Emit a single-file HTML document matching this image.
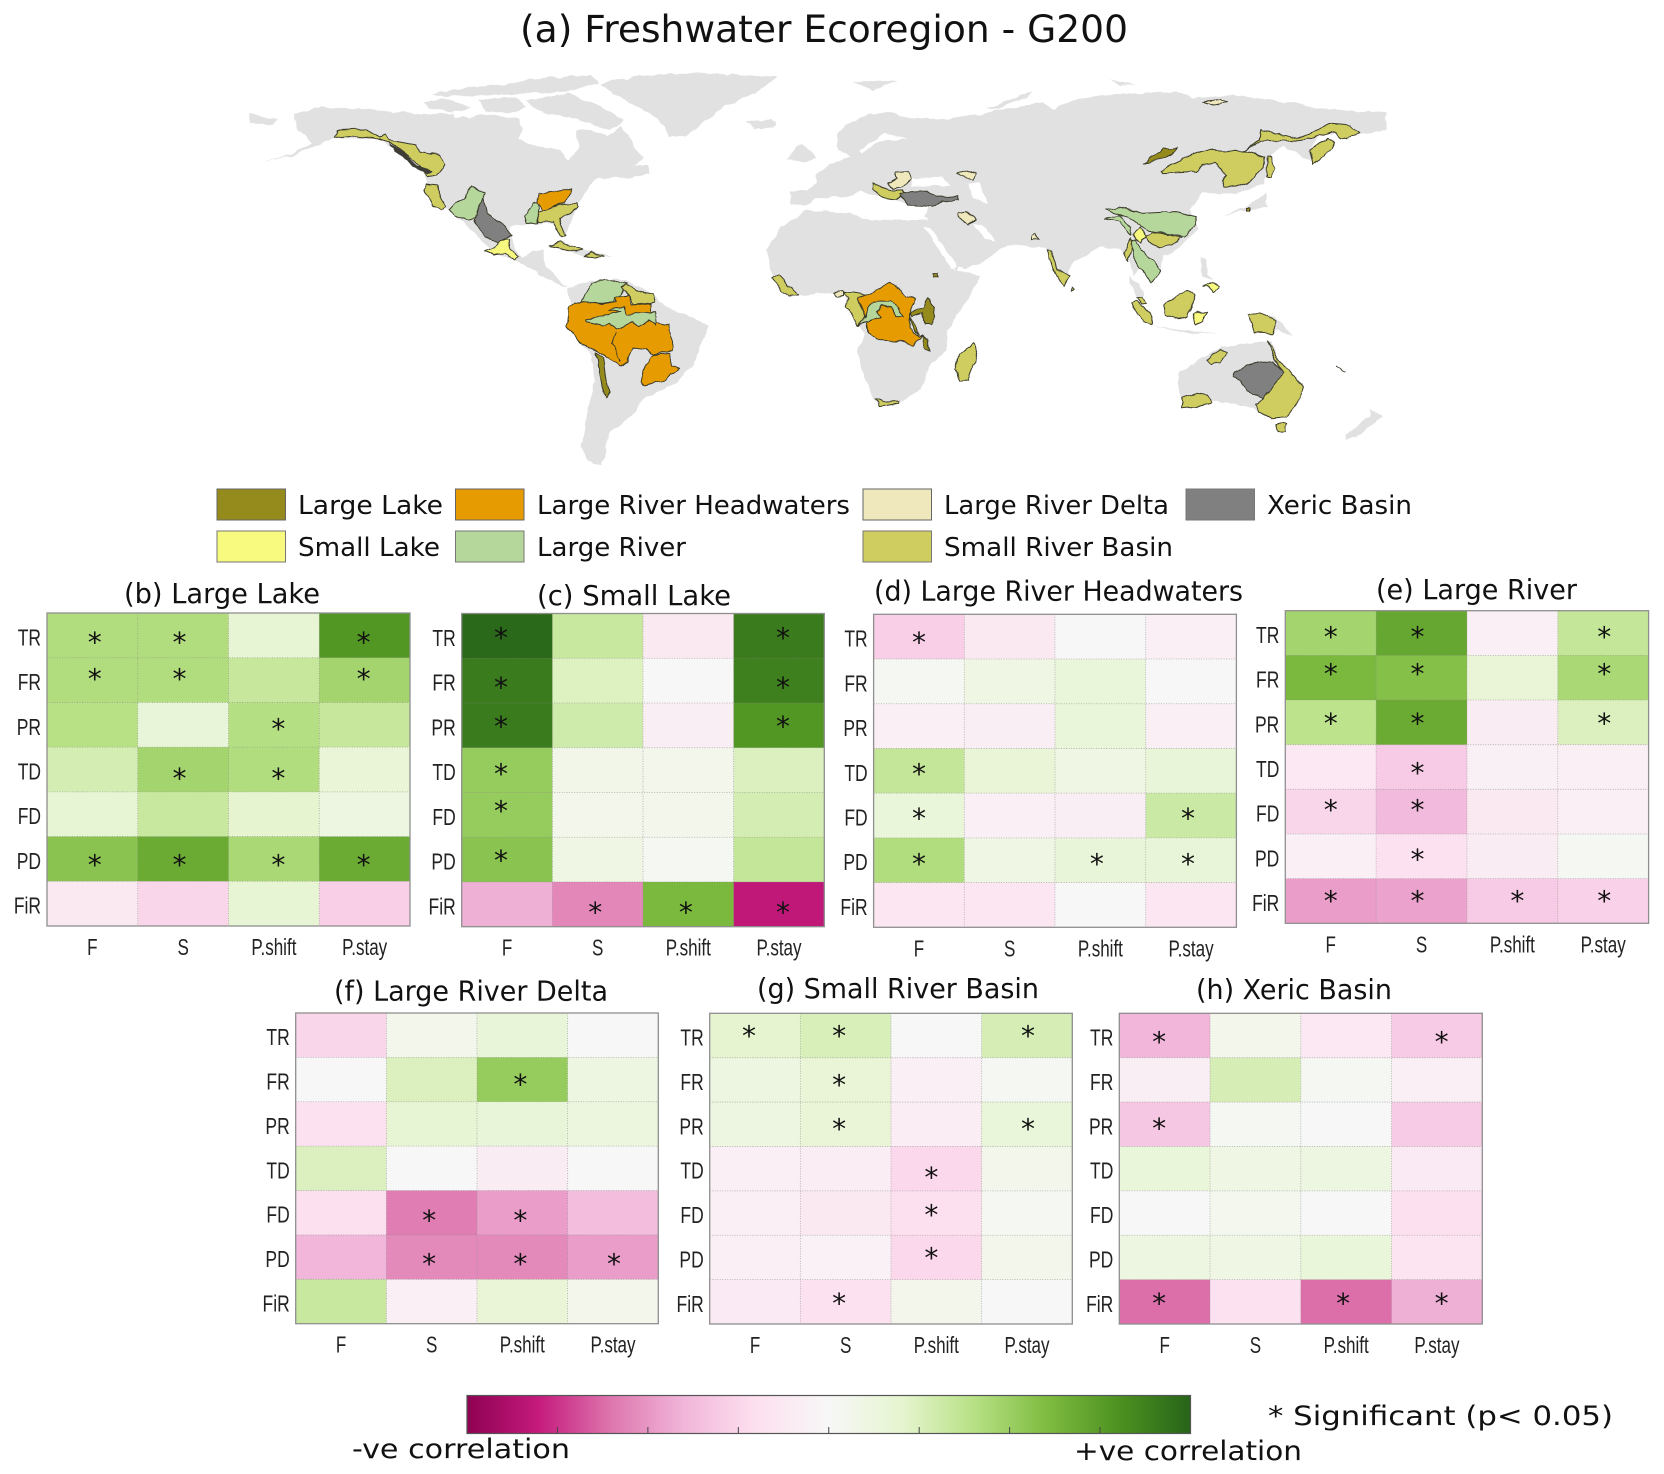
<!DOCTYPE html>
<html lang="en">
<head>
<meta charset="utf-8">
<title>Freshwater Ecoregion - G200</title>
<style>
html,body{margin:0;padding:0;background:#fff;}
svg{display:block;}
.dj{font-family:"DejaVu Sans","Liberation Sans",sans-serif;fill:#111;}
.eco{stroke:#3a3a2a;stroke-width:1;vector-effect:non-scaling-stroke;stroke-linejoin:round;}
.ll{fill:#958a1c;}.lrh{fill:#e69b00;}.lrd{fill:#efe8bd;}.xb{fill:#808080;}
.sl{fill:#f8f97f;}.lr{fill:#b5d79c;}.srb{fill:#cfcd60;}
</style>
</head>
<body>
<svg id="figure" xmlns="http://www.w3.org/2000/svg" width="1664" height="1474" viewBox="0 0 1664 1474">
<defs>
<filter id="rough" filterUnits="userSpaceOnUse" x="200" y="50" width="1250" height="430" color-interpolation-filters="sRGB">
<feTurbulence type="fractalNoise" baseFrequency="0.09" numOctaves="2" seed="4" result="n"/>
<feDisplacementMap in="SourceGraphic" in2="n" scale="5" xChannelSelector="R" yChannelSelector="G"/>
</filter>
<linearGradient id="piyg" x1="0" x2="1" y1="0" y2="0">
<stop offset="0" stop-color="#8e0152"/><stop offset=".1" stop-color="#c51b7d"/><stop offset=".2" stop-color="#de77ae"/><stop offset=".3" stop-color="#f1b6da"/><stop offset=".4" stop-color="#fde0ef"/><stop offset=".5" stop-color="#f7f7f7"/><stop offset=".6" stop-color="#e6f5d0"/><stop offset=".7" stop-color="#b8e186"/><stop offset=".8" stop-color="#7fbc41"/><stop offset=".9" stop-color="#4d9221"/><stop offset="1" stop-color="#276419"/>
</linearGradient>
</defs>
<rect width="1664" height="1474" fill="#fff"/>
<text class="dj" x="520" y="42" font-size="37" textLength="608" lengthAdjust="spacingAndGlyphs">(a) Freshwater Ecoregion - G200</text>

<g filter="url(#rough)">
<!-- Americas land -->
<g transform="translate(200 50) scale(0.4082 0.3333)" fill="#e1e1e2">
<path d="M230,190L300,172L420,180L520,190L590,190L640,190L700,195L780,205L790,240L780,265L810,285L880,300L900,335L930,295L920,245L960,240L1000,260L1030,225L1060,280L1085,320L1060,350L1105,370L1060,382L975,385L940,430L925,470L895,555L875,520L830,520L790,525L760,530L760,560L775,600L790,625L815,600L840,595L845,640L880,690L900,712L860,695L790,640L720,610L690,570L640,510L600,470L560,410L550,370L520,330L470,290L430,265L330,265L290,285L220,320L150,335L210,318L275,280L240,240Z"/>
<path d="M570,130L640,115L760,100L820,85L960,75L975,100L900,125L800,130L700,135L600,140Z"/>
<path d="M545,160L600,145L660,170L640,188L560,175Z"/>
<path d="M680,150L770,140L800,170L760,190L700,185Z"/>
<path d="M800,150L900,130L1000,180L1040,212L1000,240L920,205L830,185Z"/>
<path d="M980,100L1060,80L1200,68L1415,80L1360,130L1280,170L1190,260L1150,260L1130,220L1100,190L1040,150Z"/>
<path d="M1340,215L1400,210L1410,225L1360,235Z"/>
<path d="M122,190L190,210L180,225L122,220Z"/>
<path d="M1060,345L1100,345L1105,375L1070,370Z"/>
<path d="M900,715L960,690L1040,690L1110,730L1140,770L1245,825L1210,940L1170,1000L1090,1040L1060,1100L1000,1150L985,1245L950,1232L935,1190L950,1080L965,1000L960,920L900,830L910,770Z"/>
<path d="M860,585L940,600L1010,620L950,622L900,605Z"/>
<path fill="#fff" d="M790,205L850,212L870,238L800,236Z"/>
<path fill="#fff" d="M620,182L680,186L660,205L625,200Z"/>
</g>
<!-- Old world land -->
<g transform="translate(760 50) scale(0.4336 0.3333)">
<g fill="#e1e1e2">
<path d="M15,600L50,530L110,480L200,490L260,510L385,510L420,600L450,660L510,675L480,750L430,840L430,900L390,950L370,1020L320,1060L270,1062L240,980L225,900L240,850L190,725L90,735L30,680Z"/>
<path d="M70,460L70,425L110,420L130,400L125,375L160,345L210,320L180,300L175,255L200,225L250,195L300,185L345,205L400,205L430,210L470,195L510,195L540,180L600,170L650,160L680,180L720,150L790,135L870,130L960,125L1000,145L1090,135L1180,150L1300,175L1380,185L1445,185L1445,240L1385,255L1290,250L1270,300L1280,340L1210,290L1180,310L1170,330L1165,400L1100,430L1020,430L990,480L1010,540L960,600L930,620L925,670L880,640L860,680L850,620L830,600L790,590L720,640L700,700L660,590L570,585L510,640L455,665L390,530L385,505L260,470L200,440L100,470Z"/>
<path d="M60,330L95,280L130,320L100,340Z"/>
<path d="M0,220L35,215L30,232L0,235Z"/>
<path d="M215,95L320,95L260,120Z"/>
<path d="M520,175L630,125L610,145L545,175Z"/>
<path d="M805,90L870,105L830,108Z"/>
<path d="M850,680L875,700L885,740L870,745Z"/>
<path d="M900,825L1000,845L1060,850L990,850Z"/>
<path d="M1015,620L1030,625L1030,670L1045,690L1020,680Z"/>
<path d="M1070,495L1120,470L1165,430L1170,470L1130,480Z"/>
<path d="M1130,790L1190,800L1230,860L1190,840L1140,850Z"/>
<path d="M965,970L1020,925L1060,890L1130,880L1180,870L1195,935L1230,975L1252,1015L1240,1060L1215,1100L1150,1085L1140,1075L1040,1050L975,1055L965,1010Z"/>
<path d="M1350,1172L1375,1165L1400,1135L1435,1100L1405,1075L1408,1100L1380,1125L1350,1155Z"/>
</g>
<g fill="#fff">
<path d="M95,475L210,462L275,512L380,505L392,470L330,460L290,440L230,425L200,440L130,445Z"/>
<path d="M350,385L420,380L440,410L395,405L350,410Z"/>
<path d="M480,400L505,395L525,460L495,445Z"/>
<path d="M380,530L395,535L455,650L440,655Z"/>
<path d="M490,520L510,525L545,570L520,565Z"/>
<path d="M225,300L290,250L340,265L270,275L235,310Z"/>
<path d="M455,660L510,678L505,670L460,650Z"/>
</g>
</g>

<!-- Ecoregions: Americas -->
<g transform="translate(200 50) scale(0.4082 0.3333)">
<path class="eco srb" d="M328,265L335,242L405,238L440,262L455,255L462,270L530,285L540,305L585,315L600,345L580,375L560,380L540,350L500,310L470,280L420,262L370,258L340,262Z"/>
<path fill="#3d3d35" d="M460,275L500,310L530,345L570,362L560,372L520,348L480,305Z"/>
<path class="eco srb" d="M553,400L580,405L590,445L603,465L590,478L570,465L550,420Z"/>
<path class="eco lr" d="M610,480L625,460L650,445L662,405L695,430L685,470L672,505L660,510L625,495Z"/>
<path class="eco xb" d="M690,445L705,490L740,520L762,555L730,580L700,560L672,510Z"/>
<path class="eco sl" d="M735,572L755,568L760,595L782,620L770,630L745,610L720,615L700,605L720,595Z"/>
<path class="eco lr" d="M818,460L830,460L828,520L800,520L795,495Z"/>
<path class="eco lrh" d="M830,430L870,425L912,415L895,455L840,485L828,460Z"/>
<path class="eco srb" d="M830,488L895,460L925,460L925,475L880,510L895,555L885,560L865,515L830,515Z"/>
<path class="eco srb" d="M858,588L880,577L940,600L920,605Z"/>
<path class="eco srb" d="M940,620L960,608L985,618L990,622Z"/>
<path class="eco lr" d="M935,755L960,700L990,688L1030,700L1045,700L1030,735L1015,745L1015,755L985,760L945,758Z"/>
<path class="eco srb" d="M1032,712L1045,703L1080,725L1110,730L1115,755L1090,760L1060,765L1050,735Z"/>
<path class="eco lrh" d="M905,770L940,755L985,762L1020,755L1015,740L1050,735L1055,765L1105,760L1105,795L1115,815L1150,825L1158,900L1110,915L1090,900L1060,895L1045,935L1030,950L1015,935L975,905L930,880L900,830Z"/>
<path class="eco" fill="none" d="M1020,850L1008,880L1030,935"/>
<path class="eco lrh" d="M1105,918L1150,910L1155,945L1175,955L1140,990L1085,1005L1080,990L1090,950Z"/>
<path class="eco lr" d="M945,810L985,800L1030,785L1000,780L1040,770L1045,795L1075,790L1115,785L1118,825L1100,810L1075,830L1060,815L1040,830L1020,840L1005,820L985,825L945,815Z"/>
<path class="eco ll" d="M968,908L990,925L998,1000L1003,1025L993,1045L985,1010L975,940Z"/>
</g>

<!-- Ecoregions: Old world -->
<g transform="translate(760 50) scale(0.4336 0.3333)">
<path class="eco srb" d="M27,685L45,672L65,710L88,735L65,738L45,715Z"/>
<path class="eco lrd" d="M170,725L190,722L192,738L178,740Z"/>
<path class="eco srb" d="M190,725L210,728L240,735L245,790L240,815L225,825L200,770L205,745Z"/>
<path class="eco lrh" d="M225,745L260,725L300,700L325,720L335,740L360,745L345,790L345,830L365,860L375,855L350,890L335,875L270,870L250,850L245,800Z"/>
<path class="eco lr" d="M228,825L245,800L250,775L262,755L300,755L320,780L330,800L315,800L300,775L280,765L270,785L278,800L255,810Z"/>
<path class="eco ll" d="M385,742L402,770L398,825L380,825L375,790L350,800L345,790L375,770Z"/>
<path class="eco ll" d="M345,800L360,830L365,855L352,830Z"/>
<path class="eco ll" d="M375,855L388,870L392,905L378,890Z"/>
<path class="eco ll" d="M400,668L410,668L410,682L400,682Z"/>
<path class="eco srb" d="M492,878L502,905L480,990L460,992L448,960L458,915Z"/>
<path class="eco srb" d="M268,1045L285,1055L320,1053L320,1060L275,1070Z"/>
<path class="eco srb" d="M260,400L295,420L330,420L335,430L315,450L285,445L260,415Z"/>
<path class="eco lrd" d="M295,400L315,385L312,365L340,362L350,385L330,410L305,415Z"/>
<path class="eco xb" d="M325,430L385,425L405,440L430,440L455,437L455,450L420,455L400,470L340,465L328,445Z"/>
<path class="eco lrd" d="M455,370L480,362L497,370L490,388L465,380Z"/>
<path class="eco lrd" d="M458,490L475,485L498,510L480,525L460,505Z"/>
<path class="eco lrd" d="M625,562L635,550L642,570L625,572Z"/>
<path class="eco lrd" d="M1020,155L1060,148L1078,158L1045,165Z"/>
<path class="eco ll" d="M885,340L930,295L965,293L935,325Z"/>
<path class="eco srb" d="M925,365L945,345L985,320L1040,298L1120,305L1165,320L1160,355L1130,395L1095,410L1070,410L1065,395L1075,375L1050,340L1020,345L1005,365L930,368Z"/>
<path class="eco srb" d="M1115,305L1150,270L1155,240L1240,265L1290,240L1320,220L1360,225L1385,250L1340,265L1320,245L1270,265L1235,272L1155,272Z"/>
<path class="eco srb" d="M1268,300L1310,262L1325,280L1300,320L1275,342Z"/>
<path class="eco srb" d="M1170,320L1178,320L1186,355L1178,382L1168,380Z"/>
<path class="eco ll" d="M1122,472L1130,472L1130,482L1122,482Z"/>
<path class="eco lr" d="M795,480L825,472L880,490L960,485L1005,500L1000,530L980,560L905,545L880,530L850,500Z"/>
<path class="eco lr" d="M795,505L830,495L855,530L855,555L830,515Z"/>
<path class="eco srb" d="M890,560L905,548L975,562L950,585L920,592L895,575Z"/>
<path class="eco sl" d="M860,555L878,533L892,560L880,578L868,570Z"/>
<path class="eco lr" d="M855,575L865,570L880,600L905,630L925,660L905,700L895,680L875,650L860,610Z"/>
<path class="eco srb" d="M855,565L858,590L848,635L840,610Z"/>
<path class="eco srb" d="M665,598L672,600L685,660L715,680L700,708L685,680L668,630Z"/>
<path class="eco srb" d="M720,710L725,720L718,725Z"/>
<path class="eco srb" d="M855,760L870,755L905,800L905,822L885,815Z"/>
<path class="eco srb" d="M870,745L880,742L893,760L880,762Z"/>
<path class="eco srb" d="M930,765L985,720L1002,735L985,800L965,808L935,795Z"/>
<path class="eco sl" d="M1000,790L1010,785L1030,785L1020,815L1005,825Z"/>
<path class="eco sl" d="M1023,710L1045,695L1058,710L1045,725L1035,710Z"/>
<path class="eco srb" d="M1128,795L1150,790L1190,810L1180,850L1140,848Z"/>
<path class="eco srb" d="M1030,930L1060,895L1080,910L1060,940L1040,942Z"/>
<path class="eco srb" d="M1170,870L1180,890L1195,935L1230,975L1252,1015L1240,1060L1215,1100L1180,1105L1150,1085L1143,1060L1160,1045L1205,970L1188,930Z"/>
<path class="eco xb" d="M1095,970L1125,945L1165,933L1185,938L1207,970L1160,1045L1125,1025L1110,990L1092,980Z"/>
<path class="eco srb" d="M975,1045L1005,1030L1030,1035L1043,1055L1005,1070L972,1075Z"/>
<path class="eco srb" d="M1190,1122L1215,1122L1210,1145L1195,1145Z"/>
<path class="eco" fill="#444" d="M1330,948L1350,965"/>
</g>
</g>

<!-- Legend -->
<g>
<g><rect x="217" y="489" width="68.5" height="31" fill="#958a1c" stroke="#666"/><text class="dj" x="298" y="514" font-size="26" textLength="145" lengthAdjust="spacingAndGlyphs">Large Lake</text></g>
<g><rect x="455.5" y="489" width="68.5" height="31" fill="#e69b00" stroke="#666"/><text class="dj" x="537" y="514" font-size="26" textLength="313" lengthAdjust="spacingAndGlyphs">Large River Headwaters</text></g>
<g><rect x="863" y="489" width="68.5" height="31" fill="#efe8bd" stroke="#666"/><text class="dj" x="944" y="514" font-size="26" textLength="225" lengthAdjust="spacingAndGlyphs">Large River Delta</text></g>
<g><rect x="1186" y="489" width="68.5" height="31" fill="#808080" stroke="#777"/><text class="dj" x="1267" y="514" font-size="26" textLength="145" lengthAdjust="spacingAndGlyphs">Xeric Basin</text></g>
<g><rect x="217" y="531" width="68.5" height="31" fill="#f8f97f" stroke="#777"/><text class="dj" x="298" y="556" font-size="26" textLength="142" lengthAdjust="spacingAndGlyphs">Small Lake</text></g>
<g><rect x="455.5" y="531" width="68.5" height="31" fill="#b5d79c" stroke="#777"/><text class="dj" x="537" y="556" font-size="26" textLength="149" lengthAdjust="spacingAndGlyphs">Large River</text></g>
<g><rect x="863" y="531" width="68.5" height="31" fill="#cfcd60" stroke="#777"/><text class="dj" x="944" y="556" font-size="26" textLength="229" lengthAdjust="spacingAndGlyphs">Small River Basin</text></g>
</g>

<g id="panels"></g>

<!-- Colour bar -->
<g>
<rect x="467" y="1395.5" width="723.5" height="38" fill="url(#piyg)" stroke="#555" stroke-width="1.2"/>
<g id="cbar-ticks"></g>
<text class="dj" x="352" y="1458" font-size="27" textLength="218" lengthAdjust="spacingAndGlyphs">-ve correlation</text>
<text class="dj" x="1074" y="1460" font-size="27" textLength="228" lengthAdjust="spacingAndGlyphs">+ve correlation</text>
<text class="dj" x="1268" y="1425" font-size="27" textLength="345" lengthAdjust="spacingAndGlyphs">* Significant (p&lt; 0.05)</text>
</g>
</svg>

<script>
const rowLabels = ['TR','FR','PR','TD','FD','PD','FiR'];
const colLabels = ['F','S','P.shift','P.stay'];
const colorbarTicks = [-0.75,-0.5,-0.25,0,0.25,0.5,0.75];

const largeLakeValues = [[.42,.42,.18,.78],[.42,.42,.34,.47],[.4,.16,.41,.34],[.28,.47,.42,.17],[.18,.33,.2,.12],[.56,.68,.45,.68],[-.12,-.25,.18,-.28]];
const largeLakeSig = [[1,1,0,1],[1,1,0,1],[0,0,1,0],[0,1,1,0],[0,0,0,0],[1,1,1,1],[0,0,0,0]];

const smallLakeValues = [[.98,.33,-.12,.9],[.9,.24,0,.88],[.9,.3,-.08,.78],[.52,.07,.06,.25],[.52,.06,.06,.28],[.56,.1,.02,.35],[-.42,-.55,.62,-.82]];
const smallLakeSig = [[1,0,0,1],[1,0,0,1],[1,0,0,1],[1,0,0,0],[1,0,0,0],[1,0,0,0],[0,1,1,1]];

const headwatersValues = [[-.28,-.12,0,-.07],[.02,.1,.15,0],[-.07,-.08,.15,-.07],[.35,.17,.1,.16],[.15,-.07,-.08,.32],[.42,.1,.16,.16],[-.15,-.15,0,-.15]];
const headwatersSig = [[1,0,0,0],[0,0,0,0],[0,0,0,0],[1,0,0,0],[1,0,0,1],[1,0,1,1],[0,0,0,0]];

const largeRiverValues = [[.47,.7,-.07,.35],[.62,.58,.17,.45],[.38,.68,-.1,.25],[-.13,-.3,-.06,-.07],[-.25,-.38,-.12,-.07],[-.07,-.18,-.1,.02],[-.48,-.46,-.3,-.27]];
const largeRiverSig = [[1,1,0,1],[1,1,0,1],[1,1,0,1],[0,1,0,0],[1,1,0,0],[0,1,0,0],[1,1,1,1]];

const deltaValues = [[-.25,.06,.16,0],[0,.25,.52,.12],[-.18,.18,.16,.13],[.25,0,-.1,0],[-.2,-.58,-.48,-.36],[-.4,-.54,-.54,-.48],[.33,-.07,.17,.06]];
const deltaSig = [[0,0,0,0],[0,0,1,0],[0,0,0,0],[0,0,0,0],[0,1,1,0],[0,1,1,1],[0,0,0,0]];

const smallBasinValues = [[.2,.26,0,.27],[.12,.17,-.07,.02],[.12,.17,-.09,.15],[-.07,-.09,-.24,.06],[-.07,-.12,-.2,.02],[-.07,-.05,-.24,.06],[-.11,-.18,.06,0]];
const smallBasinSig = [[1,1,0,1],[0,1,0,0],[0,1,0,1],[0,0,1,0],[0,0,1,0],[0,0,1,0],[0,1,0,0]];

const xericValues = [[-.4,.06,-.13,-.3],[-.08,.27,.02,-.07],[-.32,.02,0,-.3],[.15,.1,.12,-.11],[0,.05,0,-.2],[.12,.1,.15,-.16],[-.62,-.18,-.62,-.42]];
const xericSig = [[1,0,0,1],[0,0,0,0],[1,0,0,0],[0,0,0,0],[0,0,0,0],[0,0,0,0],[1,0,1,1]];

const piygStops = ['#8e0152','#c51b7d','#de77ae','#f1b6da','#fde0ef','#f7f7f7','#e6f5d0','#b8e186','#7fbc41','#4d9221','#276419'];

const SVGNS = 'http://www.w3.org/2000/svg';

function hexToRgb(h){
  return [parseInt(h.slice(1,3),16),parseInt(h.slice(3,5),16),parseInt(h.slice(5,7),16)];
}
function colorFor(v){
  const t = (Math.max(-1,Math.min(1,v))+1)*5;
  const i = Math.min(9,Math.floor(t));
  const f = t-i;
  const a = hexToRgb(piygStops[i]);
  const b = hexToRgb(piygStops[i+1]);
  return 'rgb('+a.map((c,k)=>Math.round(c+(b[k]-c)*f)).join(',')+')';
}
function make(tag,attrs,parent){
  const el = document.createElementNS(SVGNS,tag);
  for(const k in attrs){el.setAttribute(k,attrs[k]);}
  parent.appendChild(el);
  return el;
}

function drawPanel(key,title,values,sig,box,titleBox,starNudge){
  const root = document.getElementById('panels');
  const g = make('g',{},root);
  
  

  const cw = (box.x1-box.x0)/colLabels.length;
  const rh = (box.y1-box.y0)/rowLabels.length;
  const xScale = c => box.x0+c*cw;
  const yScale = r => box.y0+r*rh;

  const t = make('text',{x:titleBox.x,y:titleBox.y,'font-size':28,textLength:titleBox.w,lengthAdjust:'spacingAndGlyphs','class':'dj'},g);
  
  
  t.textContent = title;

  rowLabels.forEach((rName,r)=>{
    colLabels.forEach((cName,c)=>{
      const cell = make('rect',{x:xScale(c),y:yScale(r),width:cw+0.3,height:rh+0.3,fill:colorFor(values[r][c])},g);
      
      
    });
  });

  for(let c=1;c<colLabels.length;c++){
    const l = make('line',{x1:xScale(c),x2:xScale(c),y1:box.y0,y2:box.y1,stroke:'#8a8a8a','stroke-width':0.8,'stroke-dasharray':'1 1.5','stroke-opacity':0.7},g);
    
    
  }
  for(let r=1;r<rowLabels.length;r++){
    const l = make('line',{x1:box.x0,x2:box.x1,y1:yScale(r),y2:yScale(r),stroke:'#8a8a8a','stroke-width':0.8,'stroke-dasharray':'1 1.5','stroke-opacity':0.7},g);
    
    
  }
  const frame = make('rect',{x:box.x0,y:box.y0,width:box.x1-box.x0,height:box.y1-box.y0,fill:'none',stroke:'#8f8f8f','stroke-width':1.3},g);
  
  

  rowLabels.forEach((rName,r)=>{
    colLabels.forEach((cName,c)=>{
      if(sig[r][c]){
        const s = make('text',{x:xScale(c)+cw/2+starNudge.col[c],y:yScale(r)+rh/2+12.5+starNudge.row[r],'font-size':28,'text-anchor':'middle','class':'dj',fill:'#000'},g);
        
        
        s.textContent = '*';
      }
    });
  });

  rowLabels.forEach((rName,r)=>{
    const lab = make('text',{transform:'translate('+(box.x0-6)+' '+(yScale(r)+rh/2+10)+') scale(0.76 1)','text-anchor':'end','font-size':23,'font-family':'"Liberation Sans",sans-serif',fill:'#222'},g);
    
    
    lab.textContent = rName;
  });
  colLabels.forEach((cName,c)=>{
    const lab = make('text',{transform:'translate('+(xScale(c)+cw/2)+' '+(box.y1+29)+') scale(0.74 1)','text-anchor':'middle','font-size':23,'font-family':'"Liberation Sans",sans-serif',fill:'#222'},g);
    
    
    lab.textContent = cName;
  });
}

drawPanel('large-lake','(b) Large Lake',largeLakeValues,largeLakeSig,{x0:47,x1:410,y0:613,y1:926},{x:124,y:603,w:196},{col:[2.4,-3.6,4.5,-1],row:[4,-4,1,6,0,3,0]});
drawPanel('small-lake','(c) Small Lake',smallLakeValues,smallLakeSig,{x0:461.7,x1:824.3,y0:613.5,y1:926.7},{x:537,y:605,w:194},{col:[-6,-2.4,-2.5,4],row:[-1,4,-2,1,-7,-2,5]});
drawPanel('large-river-headwaters','(d) Large River Headwaters',headwatersValues,headwatersSig,{x0:873.6,x1:1236.4,y0:614.3,y1:927.3},{x:874,y:600.5,w:369},{col:[0,0,-3.5,-3],row:[2.6,0,0,0,0,1,0]});
drawPanel('large-river','(e) Large River',largeRiverValues,largeRiverSig,{x0:1285.3,x1:1648.6,y0:610.7,y1:923.3},{x:1376,y:599,w:201},{col:[0,-4,5,1],row:[1,-6.7,-2,3,-4.7,0,-3]});
drawPanel('large-river-delta','(f) Large River Delta',deltaValues,deltaSig,{x0:295.7,x1:658.3,y0:1013,y1:1323.7},{x:334,y:1000.5,w:274},{col:[0,-2.5,-2,1],row:[0,2,0,0,4.7,4,0]});
drawPanel('small-river-basin','(g) Small River Basin',smallBasinValues,smallBasinSig,{x0:709.7,x1:1072.3,y0:1013.3,y1:1324},{x:757,y:998,w:282},{col:[-6,-6.5,-5,1],row:[-2.5,2,1.6,6,-1,-2.3,-1.3]});
drawPanel('xeric-basin','(h) Xeric Basin',xericValues,xericSig,{x0:1119.3,x1:1482.3,y0:1013.3,y1:1324},{x:1196,y:999,w:196},{col:[-5.6,0,-3,4.7],row:[3.5,0,1.3,0,0,0,-1.3]});

const cbarScale = v => 467+(v+1)/2*723.5;
const cbarTicksGroup = document.getElementById('cbar-ticks');
colorbarTicks.forEach(v=>{
  const tk = make('line',{x1:cbarScale(v),x2:cbarScale(v),y1:1427,y2:1433,stroke:'#444','stroke-width':1},cbarTicksGroup);
  
  
});
</script>
</body>
</html>
